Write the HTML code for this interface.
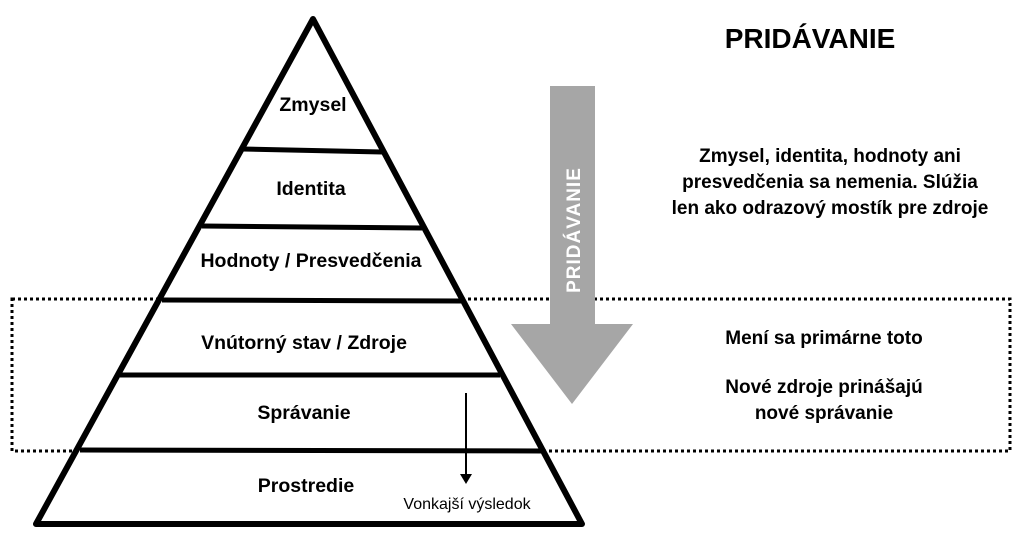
<!DOCTYPE html>
<html><head><meta charset="utf-8"><style>
body{margin:0;background:#fff;width:1024px;height:537px;overflow:hidden}
</style></head><body>
<svg width="1024" height="537" viewBox="0 0 1024 537" xmlns="http://www.w3.org/2000/svg" font-family="'Liberation Sans', sans-serif">
<rect x="12" y="299" width="998" height="152" fill="none" stroke="#000" stroke-width="3" stroke-dasharray="3,3"/>
<polygon points="313,19 36,524 582,524" fill="#fff" stroke="#000" stroke-width="6" stroke-linejoin="round"/>
<g stroke="#000" stroke-width="5">
<line x1="243" y1="149" x2="383" y2="152"/>
<line x1="202" y1="226" x2="422" y2="228"/>
<line x1="162" y1="300" x2="461" y2="301"/>
<line x1="120" y1="375" x2="500" y2="375"/>
<line x1="80" y1="450" x2="542" y2="451"/>
</g>
<g font-weight="bold" font-size="19.5" text-anchor="middle" fill="#000">
<text x="313" y="111">Zmysel</text>
<text x="311" y="195">Identita</text>
<text x="311" y="267">Hodnoty / Presvedčenia</text>
<text x="304" y="349">Vnútorný stav / Zdroje</text>
<text x="304" y="419">Správanie</text>
<text x="306" y="492">Prostredie</text>
</g>
<text x="467" y="509" font-size="16" text-anchor="middle">Vonkajší výsledok</text>
<line x1="466" y1="393" x2="466" y2="475" stroke="#000" stroke-width="2"/>
<polygon points="460,474 472,474 466,484" fill="#000"/>
<polygon points="550,86 595,86 595,324 633,324 572,404 511,324 550,324" fill="#a6a6a6"/>
<text transform="translate(580,230) rotate(-90)" font-size="19" font-weight="bold" fill="#fff" text-anchor="middle" letter-spacing="1">PRIDÁVANIE</text>
<g font-weight="bold" fill="#000" text-anchor="middle">
<text x="810" y="48" font-size="28">PRIDÁVANIE</text>
<text x="830" y="162" font-size="19">Zmysel, identita, hodnoty ani</text>
<text x="830" y="188" font-size="19">presvedčenia sa nemenia. Slúžia</text>
<text x="830" y="214" font-size="19">len ako odrazový mostík pre zdroje</text>
<text x="824" y="344" font-size="19">Mení sa primárne toto</text>
<text x="824" y="393" font-size="19">Nové zdroje prinášajú</text>
<text x="824" y="419" font-size="19">nové správanie</text>
</g>
</svg>
</body></html>
